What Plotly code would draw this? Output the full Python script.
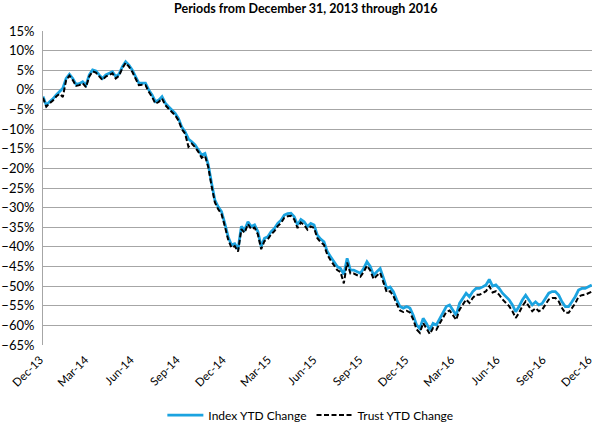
import pandas as pd
import plotly.graph_objects as go

# YTD change (%), roughly weekly from Dec 31, 2013 to Dec 31, 2016
index_ytd = [
    -1.7, -3.9, -3.0, -2.3, -1.3, -0.5, 0.4, 2.9, 4.0, 2.9,
    1.4, 1.6, 2.1, 1.2, 3.8, 5.1, 4.8, 3.8, 2.9, 3.8,
    4.2, 4.6, 3.4, 4.0, 5.9, 7.2, 6.3, 5.1, 3.4, 1.7,
    1.7, 1.7, 0.0, -1.3, -3.0, -2.6, -1.7, -3.4, -4.3, -5.1,
    -6.0, -7.3, -9.5, -10.7, -12.5, -13.2, -14.0, -15.3, -16.6, -16.2,
    -19.1, -23.8, -28.1, -29.8, -31.0, -34.0, -37.4, -39.5, -39.2, -40.6,
    -34.8, -35.7, -33.6, -34.8, -34.4, -36.1, -39.9, -37.8, -37.4, -36.1,
    -35.3, -34.0, -33.2, -31.9, -31.5, -31.4, -32.3, -34.4, -33.0, -33.6,
    -34.8, -34.0, -34.4, -37.0, -38.0, -38.7, -41.2, -42.5, -43.8, -45.0,
    -45.5, -47.0, -42.9, -45.9, -45.9, -46.3, -46.7, -45.5, -43.8, -45.0,
    -47.2, -46.3, -45.5, -48.0, -50.6, -50.2, -51.4, -53.5, -55.2, -55.6,
    -55.2, -55.6, -57.4, -59.9, -60.8, -58.2, -59.5, -61.2, -59.5, -59.9,
    -58.2, -56.9, -55.2, -54.8, -56.1, -57.4, -54.4, -53.1, -51.8, -52.7,
    -51.4, -50.6, -50.6, -50.2, -49.7, -48.3, -50.0, -49.7, -50.6, -51.8,
    -52.7, -53.5, -54.8, -56.5, -55.2, -53.5, -52.3, -53.5, -54.8, -54.0,
    -54.8, -54.4, -53.1, -51.8, -51.4, -51.4, -52.3, -54.0, -55.2, -55.2,
    -54.0, -52.7, -51.0, -50.6, -50.6, -50.2, -49.7,
]
trust_ytd = [
    -2.0, -4.3, -3.4, -2.7, -1.7, -1.0, -1.8, 2.5, 3.6, 2.5,
    1.0, 1.2, 1.7, 0.7, 3.4, 4.7, 4.4, 3.3, 2.5, 3.4,
    3.8, 4.2, 2.9, 3.6, 5.5, 6.9, 5.9, 4.6, 2.9, 1.2,
    1.3, 1.2, -0.5, -1.8, -3.5, -3.1, -2.2, -3.9, -4.8, -5.6,
    -6.5, -7.8, -10.0, -11.2, -14.5, -13.7, -14.6, -15.8, -17.3, -16.8,
    -19.7, -24.5, -28.7, -30.4, -31.6, -34.7, -38.1, -40.2, -39.8, -41.2,
    -35.5, -36.4, -34.2, -35.5, -35.1, -36.8, -40.6, -38.5, -38.1, -36.8,
    -36.0, -34.7, -33.9, -32.6, -32.2, -32.1, -33.0, -35.2, -33.8, -34.4,
    -35.6, -34.8, -35.2, -37.8, -38.8, -39.5, -42.0, -43.4, -44.7, -45.9,
    -46.4, -49.3, -44.0, -46.8, -46.8, -47.2, -47.6, -46.4, -44.8, -46.0,
    -48.2, -47.3, -46.6, -49.1, -51.6, -51.3, -52.5, -54.5, -56.2, -56.6,
    -56.3, -56.7, -58.5, -61.0, -61.9, -59.4, -60.7, -62.2, -60.7, -61.1,
    -59.5, -58.2, -56.6, -56.2, -57.5, -58.6, -56.0, -54.7, -53.4, -54.3,
    -53.0, -52.2, -52.2, -51.8, -51.3, -50.0, -51.6, -51.3, -52.2, -53.4,
    -54.3, -55.1, -56.4, -58.1, -56.8, -55.1, -53.9, -55.1, -56.4, -55.6,
    -56.4, -56.0, -54.7, -53.4, -53.0, -53.0, -53.9, -55.6, -56.8, -56.8,
    -55.6, -54.4, -52.7, -52.3, -52.2, -51.9, -51.4,
]
dates = pd.date_range("2013-12-31", "2016-12-31", periods=len(index_ytd))
tick_dates = pd.date_range("2013-12-31", "2016-12-31", freq="QE")

font = "Lato, 'Open Sans', sans-serif"

fig = go.Figure()
fig.add_trace(go.Scatter(x=dates, y=index_ytd, name="Index YTD Change", mode="lines",
                         line=dict(color="#1BA3E0", width=2.75)))
fig.add_trace(go.Scatter(x=dates, y=trust_ytd, name="Trust YTD Change", mode="lines",
                         line=dict(color="#000000", width=2, dash="5px,2.5px")))

fig.update_layout(
    width=596, height=424,
    margin=dict(l=43, r=4, t=31, b=79, autoexpand=False),
    paper_bgcolor="white", plot_bgcolor="white",
    font=dict(family=font, size=13, color="#000000"),
    title=dict(text="<b>Periods from December 31, 2013 through 2016</b>",
               x=0.513, xanchor="center", y=0.99, yanchor="top",
               font=dict(size=12.5, family=font)),
    legend=dict(orientation="h", x=0.487, xanchor="center",
                yref="container", y=0.021, yanchor="middle",
                font=dict(size=12), itemwidth=36, tracegroupgap=0),
    showlegend=True,
)
fig.update_xaxes(
    range=[tick_dates[0], tick_dates[-1] + pd.Timedelta(hours=12)],
    tickvals=tick_dates, tickformat="%b-%y", tickangle=-45,
    tickfont=dict(size=11.5), ticklabeloverflow="allow",
    ticklabelstandoff=5, ticklabelshift=-3,
    showgrid=False, showline=False, zeroline=False, ticks="", automargin=False,
)
fig.update_yaxes(
    range=[-65, 15], dtick=5, ticksuffix="%",
    showgrid=True, gridcolor="#A6A6A6", gridwidth=1,
    zeroline=False, showline=True, linecolor="#A6A6A6", linewidth=1,
    ticks="", ticklabelstandoff=5, automargin=False,
)

# drop the browser's default page margin so the figure fills the window
fig.write_html("out.html", config={"displayModeBar": False},
               post_script="document.body.style.margin='0';")
